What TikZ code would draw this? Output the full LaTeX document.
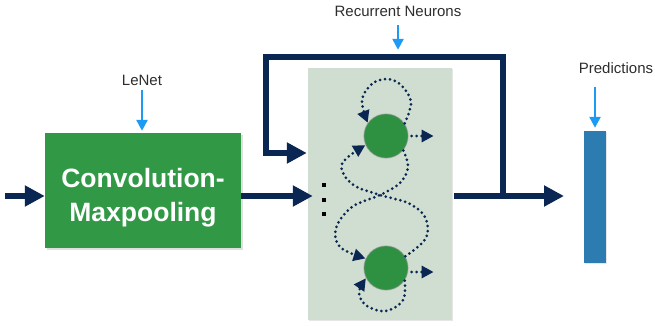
\documentclass[tikz,border=0pt]{standalone}
\usepackage{fontspec}
\setmainfont{Liberation Sans}
\usetikzlibrary{arrows.meta,shadows,calc}
\definecolor{navy}{RGB}{10,38,82}
\definecolor{boxgreen}{RGB}{49,152,70}
\definecolor{neurongreen}{RGB}{46,145,66}
\definecolor{panelgray}{RGB}{207,222,208}
\definecolor{predblue}{RGB}{44,123,177}
\definecolor{labelblue}{RGB}{28,154,244}
\definecolor{labeltext}{RGB}{45,45,45}
\tikzset{
  thick arrow/.style={draw=navy, line width=5.5pt, -{Triangle[length=20pt,width=20pt]}},
  thick line/.style={draw=navy, line width=5.5pt},
  dotted arrow/.style={draw=navy, line width=3pt, line cap=round, dash pattern=on 0pt off 5pt, -{Triangle[length=12pt,width=12pt]}},
  blue arrow/.style={draw=labelblue, line width=2.4pt, -{Triangle[length=11pt,width=11pt]}},
  toplabel/.style={font=\fontsize{15}{18}\selectfont, text=labeltext, inner sep=0pt},
  neuron/.style={circle, fill=neurongreen, minimum size=44pt, inner sep=0pt, draw=black!45, draw opacity=0.45, line width=1.2pt},
}
\begin{document}
\begin{tikzpicture}[x=1pt,y=-1pt]
\useasboundingbox (0,0) rectangle (655,326);
% panel
\node[fill=panelgray, minimum width=144pt, minimum height=252pt, inner sep=0pt,
      drop shadow={shadow xshift=1pt,shadow yshift=-1pt,opacity=0.2}] (panel) at (380,194) {};
% green box
\node[fill=boxgreen, minimum width=196pt, minimum height=115pt, inner sep=0pt,
      drop shadow={shadow xshift=1.5pt,shadow yshift=-1.5pt,opacity=0.25}] (cv) at (143,190.5) {};
\node[text=white, font=\bfseries\fontsize{26.5}{34}\selectfont, align=center, inner sep=0pt] (cvtext) at (143,198) {Convolution-\\Maxpooling};
% prediction bar
\node[fill=predblue, minimum width=22pt, minimum height=132pt, inner sep=0pt,
      drop shadow={shadow xshift=0.8pt,shadow yshift=-0.8pt,opacity=0.2}] (bar) at (595,197) {};
% neurons
\node[neuron] (n1) at (386,136) {};
\node[neuron] (n2) at (386,268) {};
% labels
\node[toplabel] (lenet) at (142,80) {LeNet};
\node[toplabel] (rec) at (398,11) {Recurrent Neurons};
\node[toplabel] (pred) at (616,68) {Predictions};
% coordinates
\coordinate (in) at (5,196);
\coordinate (c1) at (503,57);
\coordinate (c2) at (266,57);
\coordinate (c3) at (266,153);
\coordinate (o1) at (454,196);
\coordinate (o2) at (564,196);
\coordinate (j) at (503,196);
% thick arrows
\draw[thick arrow] (in) -- (in -| cv.west);
\draw[thick arrow] (cv.east |- in) -- ($(panel.west |- in)+(5pt,0)$);
\draw[thick arrow] (o1) -- (o2);
\draw[thick line, line join=miter] (j) -- (c1) -- (c2) -- (c3);
\draw[thick arrow] ([xshift=-2.75pt]c3) -- ($(panel.west |- c3)+(-1,0)$);
% blue arrows
\draw[blue arrow, shorten <=5pt, shorten >=2pt] (lenet.south) -- (lenet.south |- cv.north);
\draw[blue arrow, shorten <=9pt, shorten >=18pt] (rec.south) -- (rec.south |- panel.north);
\draw[blue arrow, shorten <=13pt, shorten >=3pt] (pred.south -| bar.north) -- (bar.north);
% dots
\foreach \yy [count=\i] in {185,200,214} {
  \fill[black] (322,\yy-2) rectangle (326,\yy+2);
}
% recurrent dotted connections
\draw[dotted arrow] plot[smooth, tension=0.6] coordinates {(n1.-40) (408,167) (400,183) (380,195) (352,207) (336,228) (340,247) (n2.155)};
\draw[dotted arrow] plot[smooth, tension=0.6] coordinates {(n2.31) (426,238) (425,217) (408,203) (380,195) (352,184) (342,164) (n1.204)};
\draw[dotted arrow] plot[smooth, tension=0.6] coordinates {(n1.34) (411,102) (401,85) (387,79) (372,84) (362,100) (n1.144)};
\draw[dotted arrow] plot[smooth, tension=0.6] coordinates {(n2.-34) (403,300) (386,311) (367,306) (359,293) (n2.207)};
\draw[dotted arrow] (n1.east) ++(3pt,0) -- ++(22pt,0);
\draw[dotted arrow] ([yshift=-4pt]n2.east) ++(3pt,0) -- ++(22pt,0);
\end{tikzpicture}
\end{document}
